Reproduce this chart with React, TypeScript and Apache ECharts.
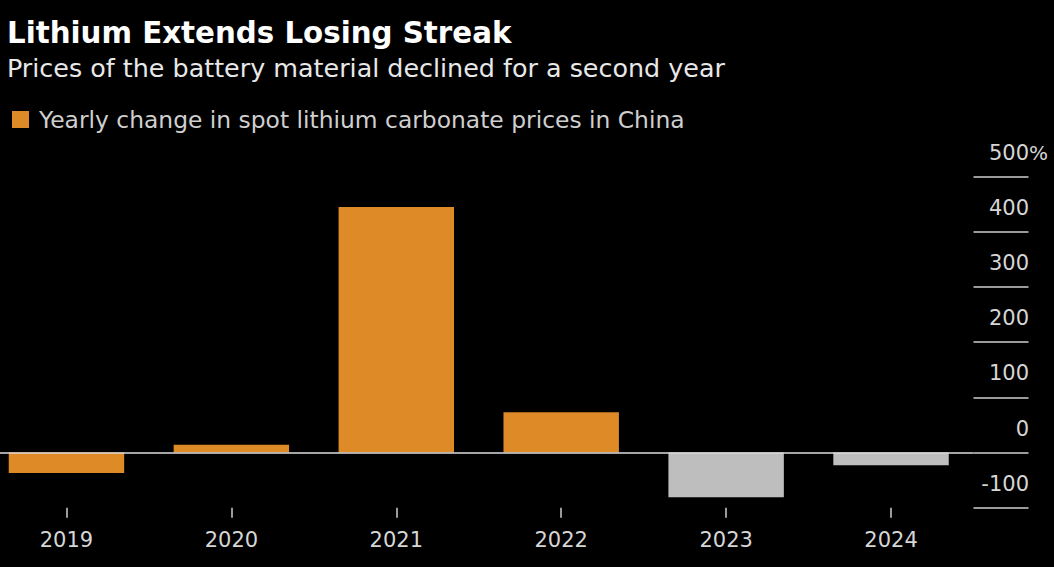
import React, { useEffect, useRef } from "react";
import * as echarts from "echarts";

const years = ["2019", "2020", "2021", "2022", "2023", "2024"];
const changes = [-37, 14, 445, 73, -81, -23];
const grayYears = ["2023", "2024"];
const yTicks = [-100, 0, 100, 200, 300, 400, 500];
const seriesName = "Yearly change in spot lithium carbonate prices in China";

const ORANGE = "#DE8A27";
const GRAY = "#BEBEBE";
const FONT = "'DejaVu Sans', sans-serif";
const SHIFT = 16; // chart canvas extends left beyond the page edge

export default function App() {
  const ref = useRef<HTMLDivElement>(null);
  useEffect(() => {
    if (!ref.current) return;
    const chart = echarts.init(ref.current, undefined, { renderer: "svg" });
    chart.setOption({
      animation: false,
      backgroundColor: "#000",
      textStyle: { fontFamily: FONT },
      title: {
        left: 7 + SHIFT,
        top: 16,
        padding: 0,
        itemGap: 3,
        text: "Lithium Extends Losing Streak",
        subtext: "Prices of the battery material declined for a second year",
        textStyle: { color: "#fff", fontSize: 29.3, fontWeight: "bold", fontFamily: FONT, lineHeight: 34 },
        subtextStyle: { color: "#e8e8e8", fontSize: 25.4, fontFamily: FONT, lineHeight: 30 },
      },
      legend: {
        left: 12 + SHIFT,
        top: 108,
        padding: 0,
        icon: "rect",
        itemWidth: 17,
        itemHeight: 17,
        data: [seriesName],
        textStyle: { color: "#cfcfcf", fontSize: 23.4, fontFamily: FONT, padding: [0, 0, 0, 5] },
        selectedMode: false,
      },
      grid: { left: 0, right: 1070 - SHIFT - 973.5, top: 176.7, bottom: 59.3, containLabel: false },
      xAxis: {
        type: "category",
        data: years,
        position: "bottom",
        axisLine: { show: false, onZero: false },
        axisTick: { show: true, alignWithLabel: true, length: 10, lineStyle: { color: "#cfcfcf", width: 1.5 } },
        axisLabel: { color: "#d6d6d6", fontSize: 21, margin: 22, fontFamily: FONT },
        splitLine: { show: false },
      },
      yAxis: {
        type: "value",
        position: "right",
        min: yTicks[0],
        max: yTicks[yTicks.length - 1],
        interval: 100,
        axisLine: { show: false },
        axisTick: { show: true, length: 55, lineStyle: { color: "#cfcfcf", width: 1.5 } },
        splitLine: { show: false },
        axisLabel: {
          margin: 74.5,
          align: "right",
          verticalAlign: "bottom",
          padding: [0, 0, 13, 0],
          color: "#d6d6d6",
          fontSize: 21,
          lineHeight: 22,
          fontFamily: FONT,
          formatter: (v: number) => (v === yTicks[yTicks.length - 1] ? `{v|${v}}{p|%}` : `{v|${v}}{p|}`),
          rich: {
            v: { color: "#d6d6d6", fontSize: 21, fontFamily: FONT, lineHeight: 22 },
            p: { color: "#d6d6d6", fontSize: 20, fontFamily: FONT, width: 19, lineHeight: 22 },
          },
        },
      },
      series: [
        {
          name: seriesName,
          type: "bar",
          barCategoryGap: "30%",
          itemStyle: { color: ORANGE },
          data: changes.map((v, i) => ({
            value: v,
            itemStyle: { color: grayYears.includes(years[i]) ? GRAY : ORANGE },
          })),
          markLine: {
            silent: true,
            symbol: "none",
            label: { show: false },
            lineStyle: { color: "#dcdcdc", width: 1.5, type: "solid" },
            data: [{ yAxis: 0 }],
          },
        },
      ],
    });
    return () => chart.dispose();
  }, []);
  return (
    <div
      ref={ref}
      style={{ position: "absolute", left: -SHIFT, top: 0, width: 1054 + SHIFT, height: 567, background: "#000" }}
    />
  );
}
